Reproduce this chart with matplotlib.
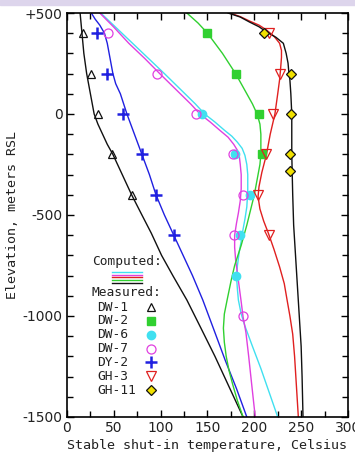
import numpy as np
import matplotlib
matplotlib.use('Agg')
import matplotlib.pyplot as plt
from matplotlib.patches import Rectangle
from matplotlib.ticker import MultipleLocator

# Measured stable shut-in temperatures (Celsius) vs elevation (m RSL)
dw1_t = [17, 26, 33, 48, 69]
dw1_z = [400, 200, 0, -200, -400]
dw2_t = [150, 180, 205, 208]
dw2_z = [400, 200, 0, -200]
dw6_t = [144, 179, 195, 185, 180]
dw6_z = [0, -200, -400, -600, -800]
dw7_t = [44, 96, 138, 177, 188, 178, 188]
dw7_z = [400, 200, 0, -200, -400, -600, -1000]
dy2_t = [32, 43, 60, 80, 95, 114]
dy2_z = [400, 200, 0, -200, -400, -600]
gh3_t = [216, 227, 220, 213, 204, 216]
gh3_z = [400, 200, 0, -200, -400, -600]
gh11_t = [210, 239, 239, 238, 238]
gh11_z = [400, 200, 0, -200, -280]

# Computed profiles
c_dw1_t = [14, 15, 16, 18, 21, 25, 29, 33, 38, 43, 49, 59, 69, 80, 90, 101,
           113, 128, 143, 158, 173, 188]
c_dw1_z = [500, 450, 400, 300, 200, 100, 0, -50, -100, -150, -200, -300, -400,
           -500, -590, -700, -800, -921, -1060, -1200, -1350, -1500]
c_dy2_t = [26, 30, 35, 40, 43, 45, 47, 49, 52, 57, 64, 72, 80, 88, 95, 104,
           114, 124, 134, 145, 157, 169, 181, 192]
c_dy2_z = [500, 470, 440, 400, 350, 300, 250, 200, 150, 100, 0, -100, -200,
           -300, -400, -500, -600, -700, -800, -921, -1070, -1220, -1360, -1500]
c_dw7_t = [35, 50, 66, 83, 99, 110, 121, 132, 142, 153, 163, 172, 178, 182,
           184, 185, 186, 186, 185, 183, 181, 179, 179, 180, 182, 184, 186, 188,
           191, 194, 197, 201]
c_dw7_z = [500, 430, 350, 275, 200, 150, 100, 50, 0, -40, -80, -115, -150,
           -180, -210, -250, -300, -370, -430, -490, -540, -600, -660, -720,
           -790, -860, -930, -1005, -1080, -1200, -1330, -1500]
c_dw6_t = [36, 53, 70, 87, 104, 115, 126, 137, 147, 158, 168, 176, 182, 187,
           190, 192, 193, 193, 192, 190, 188, 186, 184, 182, 181, 182, 183, 186,
           190, 198, 207, 216, 225]
c_dw6_z = [500, 425, 350, 275, 200, 150, 100, 50, 0, -40, -80, -110, -140,
           -170, -205, -250, -300, -380, -460, -520, -570, -630, -680, -750,
           -807, -870, -921, -990, -1050, -1150, -1260, -1380, -1500]
c_dw2_t = [128, 134, 140, 145, 150, 158, 166, 173, 180, 186, 192, 198, 203,
           206, 207, 207, 207, 206, 204, 202, 200, 196, 192, 186, 179, 175, 171,
           168, 167, 168, 170, 173, 177, 182, 188]
c_dw2_z = [500, 475, 450, 425, 400, 350, 300, 250, 200, 150, 100, 50, 0, -50,
           -100, -150, -200, -250, -300, -350, -400, -475, -550, -650, -750,
           -830, -920, -990, -1060, -1130, -1200, -1270, -1340, -1420, -1500]
c_gh3_t = [174, 185, 195, 205, 213, 221, 227, 229, 229, 228, 227, 225, 222,
           217, 213, 208, 205, 204, 206, 210, 215, 221, 227, 232, 235, 238, 241,
           243, 245, 247]
c_gh3_z = [500, 482, 460, 440, 416, 385, 350, 315, 280, 220, 170, 100, 0, -100,
           -200, -290, -360, -410, -470, -530, -590, -670, -757, -840, -921,
           -1000, -1090, -1200, -1350, -1500]
c_gh11_t = [172, 185, 195, 205, 213, 223, 231, 234, 236, 237, 238, 239, 240,
            240, 241, 242, 244, 246, 248, 250, 251, 252]
c_gh11_z = [500, 480, 455, 432, 406, 380, 350, 300, 252, 200, 168, 100, 0,
            -200, -400, -550, -700, -850, -1000, -1150, -1300, -1500]

BLACK = '#111111'
BLUE = '#2020e0'
MAG = '#e040e0'
CYAN = '#40e0f0'
GREEN = '#30d030'
RED = '#e02020'
YEL = '#f0e000'

fig = plt.figure(figsize=(3.55, 4.53), dpi=100)
ax = fig.add_axes([0.1887, 0.0795, 0.7915, 0.8918])

# lavender strip at top of the image
fig.patches.append(Rectangle((0, 0.99), 1, 0.01, transform=fig.transFigure,
                             color='#ddd5ec', zorder=0))

lw = 1.0
ax.plot(c_dw1_t, c_dw1_z, color=BLACK, lw=lw)
ax.plot(c_dy2_t, c_dy2_z, color=BLUE, lw=lw)
ax.plot(c_dw6_t, c_dw6_z, color=CYAN, lw=lw)
ax.plot(c_dw7_t, c_dw7_z, color=MAG, lw=lw)
ax.plot(c_dw2_t, c_dw2_z, color=GREEN, lw=lw)
ax.plot(c_gh3_t, c_gh3_z, color=RED, lw=lw)
ax.plot(c_gh11_t, c_gh11_z, color=BLACK, lw=lw)

ax.plot(dw1_t, dw1_z, ls='none', marker='^', ms=6, mfc='none', mec=BLACK, mew=0.9)
ax.plot(dw2_t, dw2_z, ls='none', marker='s', ms=5.5, mfc=GREEN, mec=GREEN)
ax.plot(dw6_t, dw6_z, ls='none', marker='o', ms=6, mfc=CYAN, mec=CYAN)
ax.plot(dw7_t, dw7_z, ls='none', marker='o', ms=6.5, mfc='none', mec=MAG, mew=0.9)
ax.plot(dy2_t, dy2_z, ls='none', marker='+', ms=9, mec=BLUE, mew=1.8)
ax.plot(gh3_t, gh3_z, ls='none', marker='v', ms=6.5, mfc='none', mec=RED, mew=0.9)
ax.plot(gh11_t, gh11_z, ls='none', marker='D', ms=5.5, mfc=YEL, mec=BLACK, mew=0.9)

# legend drawn by hand
mono = 'DejaVu Sans Mono'
tc = '#222222'
ax.text(0.089, 0.384, 'Computed:', transform=ax.transAxes, family=mono,
        fontsize=9.3, color=tc, va='center', ha='left')
for i, c in enumerate([CYAN, MAG, RED, GREEN, BLACK]):
    yy = 0.359 - i * 0.0068
    ax.plot([0.160, 0.267], [yy, yy], color=c, lw=1.0, transform=ax.transAxes)
ax.text(0.089, 0.309, 'Measured:', transform=ax.transAxes, family=mono,
        fontsize=9.3, color=tc, va='center', ha='left')

names = ['DW-1', 'DW-2', 'DW-6', 'DW-7', 'DY-2', 'GH-3', 'GH-11']
styles = [
    dict(marker='^', ms=6, mfc='none', mec=BLACK, mew=0.9),
    dict(marker='s', ms=5.5, mfc=GREEN, mec=GREEN),
    dict(marker='o', ms=6, mfc=CYAN, mec=CYAN),
    dict(marker='o', ms=6.5, mfc='none', mec=MAG, mew=0.9),
    dict(marker='+', ms=9, mec=BLUE, mew=1.8),
    dict(marker='v', ms=6.5, mfc='none', mec=RED, mew=0.9),
    dict(marker='D', ms=5.5, mfc=YEL, mec=BLACK, mew=0.9),
]
for i, (n, st) in enumerate(zip(names, styles)):
    yy = 0.272 - i * 0.0342
    ax.text(0.107, yy, n, transform=ax.transAxes, family=mono, fontsize=9.3,
            color=tc, va='center', ha='left')
    ax.plot([0.299], [yy], ls='none', transform=ax.transAxes, **st)

ax.set_xlim(0, 300)
ax.set_ylim(-1500, 500)
ax.set_xticks([0, 50, 100, 150, 200, 250, 300])
ax.set_xticklabels(['0', '50', '100', '150', '200', '250', '300'])
ax.set_yticks([500, 0, -500, -1000, -1500])
ax.set_yticklabels(['+500', '0', '-500', '-1000', '-1500'])
ax.xaxis.set_minor_locator(MultipleLocator(25))
ax.yaxis.set_minor_locator(MultipleLocator(100))
ax.tick_params(which='both', direction='in', top=True, right=True,
               labelsize=10, labelcolor='#222222', width=1.0)
ax.tick_params(which='major', length=5, pad=3)
ax.tick_params(which='minor', length=4)
for s in ax.spines.values():
    s.set_linewidth(1.2)

ax.set_xlabel('Stable shut-in temperature, Celsius', family=mono,
              fontsize=9.6, color=tc, labelpad=3)
ax.set_ylabel('Elevation, meters RSL', family=mono, fontsize=9.6,
              color=tc, labelpad=3)

fig.savefig('out.png', dpi=100)
